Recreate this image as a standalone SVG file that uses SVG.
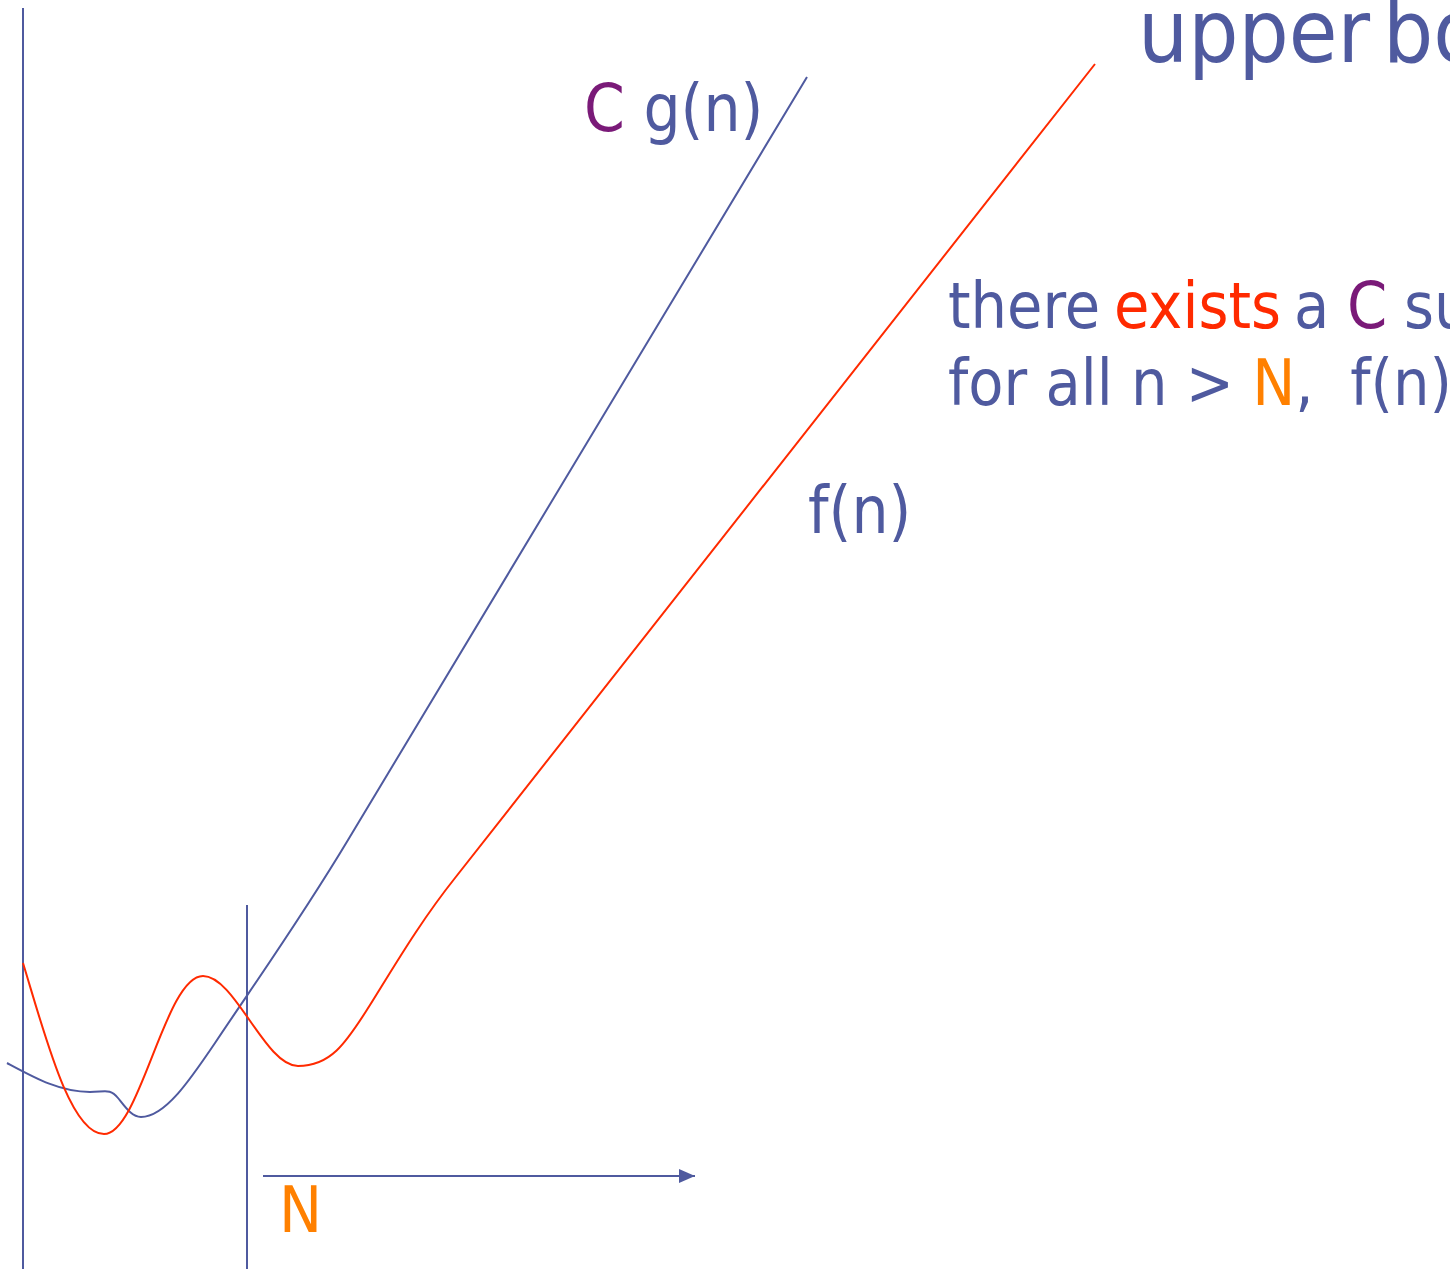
<svg xmlns="http://www.w3.org/2000/svg" width="1450" height="1269" viewBox="0 0 1450 1269">
  <style>
    text { font-family: 'DejaVu Sans Condensed', 'DejaVu Sans', sans-serif; font-stretch: condensed; fill: #4f5a9f; white-space: pre; }
    .blue { stroke: #4f5a9f; fill: none; stroke-width: 2; }
    .red { stroke: #ff2a00; fill: none; stroke-width: 2; }
    .exists { fill: #ff2a00; }
    .cc { fill: #7a1a78; }
    .nn { fill: #ff8000; }
  </style>
  <defs>
    <marker id="arrow" markerWidth="16" markerHeight="14" refX="16" refY="7" orient="auto" markerUnits="userSpaceOnUse">
      <path d="M0,0 L16,7 L0,14 Z" fill="#4f5a9f"/>
    </marker>
  </defs>
  <rect width="1450" height="1269" fill="#ffffff"/>
  <g id="axes">
    <line class="blue" x1="23" y1="8" x2="23" y2="1269"/>
    <line class="blue" x1="247" y1="905" x2="247" y2="1269"/>
  </g>
  <g id="connectors">
    <line class="blue" x1="263" y1="1176" x2="695" y2="1176" marker-end="url(#arrow)"/>
  </g>
  <g id="cg-curve">
    <path class="blue" d="M7,1063 C35,1078 60,1092 90,1092 C105,1092 110,1088 118,1098 C126,1108 132,1117 141,1117 C165,1117 190,1080 215,1043 C255,983 300,920 348,840 L807,77"/>
  </g>
  <g id="f-curve">
    <path class="red" d="M23,963 C45,1035 70,1134 104,1134 C140,1134 165,976 203,976 C235,976 265,1066 298,1066 C330,1066 345,1045 370,1005 C395,965 420,922 455,878 L1095,64"/>
  </g>
  <g id="title">
    <text x="1138" y="62" font-size="88">upper<tspan x="1383">bo</tspan></text>
  </g>
  <g id="label-cg">
    <text x="584" y="131" font-size="65"><tspan class="cc">C</tspan> g(n)</text>
  </g>
  <g id="label-f">
    <text x="808" y="533" font-size="65">f(n)</text>
  </g>
  <g id="definition">
    <text x="948" y="328" font-size="64">there <tspan class="exists" x="1114">exists</tspan><tspan x="1294">a</tspan><tspan class="cc" x="1347">C</tspan><tspan x="1404">su</tspan></text>
    <text x="948" y="405" font-size="64">for all n &gt; <tspan class="nn">N</tspan>,  f(n)</text>
  </g>
  <g id="label-N">
    <text x="279" y="1232" font-size="64" class="nn">N</text>
  </g>
</svg>
